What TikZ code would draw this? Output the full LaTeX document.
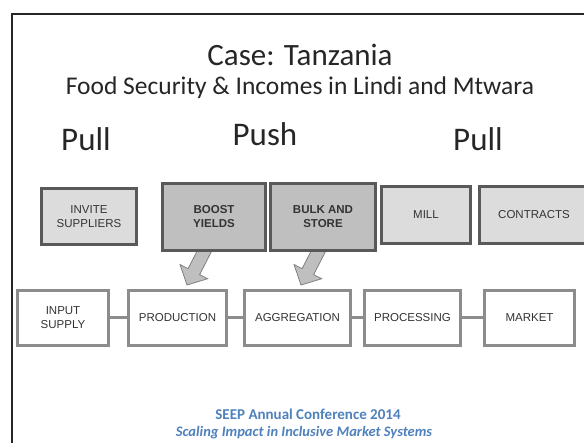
\documentclass[tikz,border=0pt]{standalone}
\usepackage{fontspec}
\setmainfont{Carlito}
\newfontfamily\arialf{Liberation Sans}
\usetikzlibrary{calc}
\definecolor{toprowline}{HTML}{595959}
\definecolor{lightfill}{HTML}{DCDCDC}
\definecolor{darkfill}{HTML}{BFBFBF}
\definecolor{chainline}{HTML}{8C8C8C}
\definecolor{arrowfill}{HTML}{BFBFBF}
\definecolor{arrowline}{HTML}{808080}
\definecolor{footblue}{HTML}{4F81BD}
\tikzset{
  px/.style={x=1pt,y=-1pt},
  topbox/.style={draw=toprowline, line width=3pt, inner sep=0pt, align=center,
    font=\arialf\fontsize{11.5}{14}\selectfont, text=black!80},
  pullbox/.style={topbox, fill=lightfill},
  pushbox/.style={topbox, fill=darkfill, font=\arialf\bfseries\fontsize{11.5}{14}\selectfont},
  chainbox/.style={draw=chainline, line width=3pt, fill=white, inner sep=0pt, align=center,
    minimum height=55pt, font=\arialf\fontsize{11.5}{14}\selectfont, text=black!80},
  chainlink/.style={draw=chainline, line width=3pt},
  bigarrow/.style={fill=arrowfill, draw=arrowline, line width=0.8pt, line join=miter},
  heading/.style={anchor=base, text=black!85},
}
\begin{document}
\begin{tikzpicture}[px]
\useasboundingbox (0,0) rectangle (584,443);
\fill[white] (0,0) rectangle (584,443);
% slide frame
\draw[line width=2pt, black!85] (11.5,460) -- (11.5,14) -- (600,14);

% titles
\node[heading, font=\fontsize{31}{36}\selectfont] (title) at (300,66) {Case: Tanzania};
\node[heading, font=\fontsize{25.5}{30}\selectfont] (subtitle) at (300,95) {Food Security \& Incomes in Lindi and Mtwara};
\node[heading, font=\fontsize{33}{38}\selectfont] (pull1) at (86,151) {Pull};
\node[heading, font=\fontsize{33}{38}\selectfont] (push) at (265,146) {Push};
\node[heading, font=\fontsize{33}{38}\selectfont] (pull2) at (478,151) {Pull};

% block arrows (drawn first, boxes cover their tails)
\coordinate (t1) at (206,248);
\coordinate (p1) at (187,285);
\coordinate (t2) at (320,248);
\coordinate (p2) at (301,285);
\foreach \t/\p in {t1/p1, t2/p2}{
  \coordinate (n) at ($(\p)!15pt!(\t)$);
  \draw[bigarrow] ($(\t)!6.5pt!90:(\p)$) -- ($(n)!6.5pt!90:(\p)$) -- ($(n)!15.5pt!90:(\p)$)
     -- (\p) -- ($(n)!15.5pt!-90:(\p)$) -- ($(n)!6.5pt!-90:(\p)$) -- ($(\t)!6.5pt!-90:(\p)$);
}

% top row
\node[pullbox, minimum width=95pt, minimum height=56pt] (invite) at (89,216.5) {INVITE\\SUPPLIERS};
\node[pushbox, minimum width=103pt, minimum height=67pt] (boost) at (214,217) {BOOST\\YIELDS};
\node[pushbox, minimum width=105pt, minimum height=67pt] (bulk) at (323,217) {BULK AND\\STORE};
\node[pullbox, minimum width=89pt, minimum height=57pt] (mill) at (426,215) {MILL};
\node[pullbox, minimum width=109pt, minimum height=57pt] (contracts) at (534,215) {CONTRACTS};

% bottom chain
\node[chainbox, minimum width=91pt] (input) at (63,318) {INPUT\\SUPPLY};
\node[chainbox, minimum width=98pt] (production) at (177.5,318) {PRODUCTION};
\node[chainbox, minimum width=106pt] (aggregation) at (297.5,318) {AGGREGATION};
\node[chainbox, minimum width=96pt] (processing) at (412.5,318) {PROCESSING};
\node[chainbox, minimum width=90pt] (market) at (529.5,318) {MARKET};
\draw[chainlink] (input) -- (production);
\draw[chainlink] (production) -- (aggregation);
\draw[chainlink] (aggregation) -- (processing);
\draw[chainlink] (processing) -- (market);

% footer
\node[anchor=base, text=footblue, font=\bfseries\fontsize{15}{18}\selectfont] (conf) at (308,420) {SEEP Annual Conference 2014};
\node[anchor=base, text=footblue, font=\bfseries\itshape\fontsize{14.5}{17}\selectfont] (theme) at (304,437) {Scaling Impact in Inclusive Market Systems};
\end{tikzpicture}
\end{document}
